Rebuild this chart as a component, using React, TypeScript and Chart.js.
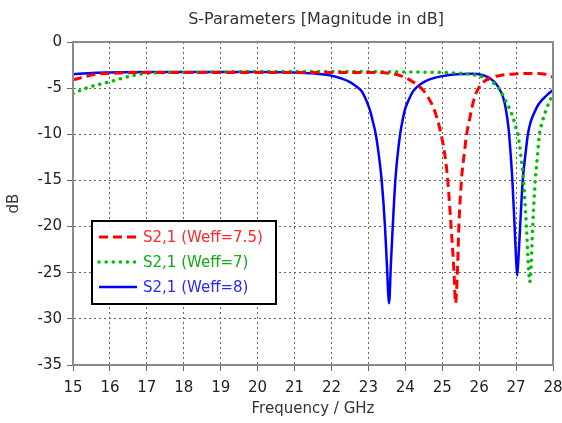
import React, { useEffect, useRef } from "react";
import { Chart, registerables } from "chart.js";

Chart.register(...registerables);

const titleText = "S-Parameters [Magnitude in dB]";
const xTitle = "Frequency / GHz";
const yTitle = "dB";

const seriesNames = ["S2,1 (Weff=7.5)", "S2,1 (Weff=7)", "S2,1 (Weff=8)"];
const seriesColors = ["rgb(255,0,0)", "rgb(0,190,0)", "rgb(0,0,255)"];
const textColors = ["rgb(255,40,40)", "rgb(20,170,20)", "rgb(40,40,255)"];

const xTicks = [15, 16, 17, 18, 19, 20, 21, 22, 23, 24, 25, 26, 27, 28];
const yTicks = [0, -5, -10, -15, -20, -25, -30, -35];

// Weff = 7.5 (red, dashed)
const freqRed = [15, 15.3, 15.6, 16, 17, 18, 19, 20, 21, 22, 23, 23.5, 23.74, 23.9, 24.05, 24.2, 24.38, 24.5, 24.62, 24.75, 24.87, 24.97, 25.08, 25.15, 25.24, 25.32, 25.36, 25.41, 25.45, 25.52, 25.6, 25.66, 25.73, 25.8, 25.9, 26.0, 26.1, 26.3, 26.6, 27.0, 27.5, 27.8, 28];
const dbRed = [-4.1, -3.8, -3.5, -3.4, -3.3, -3.3, -3.3, -3.3, -3.3, -3.3, -3.3, -3.35, -3.5, -3.7, -3.95, -4.3, -4.8, -5.3, -6.0, -7.0, -8.4, -10, -12.5, -15, -20, -25, -28.3, -25, -20, -15, -12, -10, -8.6, -7.2, -5.7, -4.9, -4.4, -3.9, -3.6, -3.45, -3.4, -3.5, -3.8];

// Weff = 7 (green, dotted)
const freqGreen = [15, 15.35, 15.7, 16, 16.45, 17, 18, 19, 20, 21, 22, 23, 24, 25, 25.5, 25.9, 26.1, 26.3, 26.45, 26.58, 26.7, 26.82, 26.92, 27.0, 27.05, 27.13, 27.2, 27.28, 27.33, 27.37, 27.41, 27.45, 27.52, 27.58, 27.63, 27.7, 27.8, 27.9, 28];
const dbGreen = [-5.6, -5.0, -4.6, -4.3, -3.8, -3.4, -3.3, -3.25, -3.2, -3.2, -3.2, -3.2, -3.25, -3.3, -3.4, -3.6, -3.8, -4.2, -4.65, -5.3, -6.2, -7.2, -8.2, -9.3, -10, -12.3, -15, -20, -24, -26, -24, -20, -15, -12.3, -10, -8.8, -7.5, -6.5, -5.6];

// Weff = 8 (blue, solid)
const freqBlue = [15, 15.5, 16, 17, 18, 19, 20, 21, 21.5, 22, 22.3, 22.5, 22.7, 22.83, 22.95, 23.05, 23.12, 23.2, 23.3, 23.36, 23.45, 23.5, 23.56, 23.61, 23.66, 23.73, 23.79, 23.86, 23.93, 24.0, 24.1, 24.2, 24.3, 24.4, 24.55, 24.7, 25.0, 25.4, 25.8, 26.1, 26.3, 26.45, 26.55, 26.65, 26.72, 26.8, 26.85, 26.9, 26.96, 27.0, 27.03, 27.07, 27.11, 27.18, 27.25, 27.32, 27.4, 27.5, 27.6, 27.7, 27.85, 28];
const dbBlue = [-3.5, -3.35, -3.3, -3.25, -3.25, -3.25, -3.25, -3.3, -3.4, -3.65, -4.0, -4.35, -4.9, -5.4, -6.4, -7.5, -8.6, -10, -12.8, -15, -20, -24, -28.3, -24, -20, -15, -12.3, -10, -8.4, -7.2, -6.2, -5.4, -4.95, -4.6, -4.25, -4.0, -3.7, -3.5, -3.45, -3.6, -3.95, -4.5, -5.1, -6.0, -7.2, -9.5, -12, -15, -20, -23.5, -25.3, -23, -20, -15, -12.3, -10, -8.6, -7.6, -6.8, -6.3, -5.7, -5.2];

const FONT = "'DejaVu Sans', Verdana, sans-serif";

const toPoints = (xs: number[], ys: number[]) => xs.map((x, i) => ({ x, y: ys[i] }));

const decorPlugin = {
  id: "decor",
  afterDraw(chart: any) {
    const { ctx, chartArea } = chart;
    const { left, right, top, bottom } = chartArea;
    ctx.save();
    ctx.strokeStyle = "#8a8a8a";
    ctx.lineWidth = 2;
    ctx.setLineDash([]);
    ctx.strokeRect(left, top, right - left, bottom - top);
    ctx.fillStyle = "#333";
    ctx.font = `16px ${FONT}`;
    ctx.textAlign = "center";
    ctx.textBaseline = "middle";
    ctx.fillText(titleText, (left + right) / 2 + 3, 20);
    const bx = 92, by = 221, bw = 184, bh = 83;
    ctx.fillStyle = "#fff";
    ctx.fillRect(bx, by, bw, bh);
    ctx.strokeStyle = "#000";
    ctx.lineWidth = 2;
    ctx.strokeRect(bx, by, bw, bh);
    const rows = [237, 262, 287];
    chart.data.datasets.forEach((ds: any, i: number) => {
      const y = rows[i];
      ctx.strokeStyle = ds.borderColor;
      ctx.lineWidth = ds.borderWidth;
      ctx.lineCap = ds.borderCapStyle || "butt";
      ctx.setLineDash(ds.borderDash || []);
      ctx.beginPath();
      ctx.moveTo(99, y);
      ctx.lineTo(137, y);
      ctx.stroke();
      ctx.setLineDash([]);
      ctx.fillStyle = textColors[i];
      ctx.font = `15px ${FONT}`;
      ctx.textAlign = "left";
      ctx.textBaseline = "middle";
      ctx.fillText(ds.label, 143, y + 1);
    });
    ctx.restore();
  },
};

export default function App() {
  const ref = useRef<HTMLCanvasElement | null>(null);
  useEffect(() => {
    if (!ref.current) return;
    const chart = new Chart(ref.current, {
      type: "line",
      data: {
        datasets: [
          {
            label: seriesNames[0],
            data: toPoints(freqRed, dbRed),
            borderColor: seriesColors[0],
            borderWidth: 3,
            borderDash: [9, 5],
            borderCapStyle: "butt",
            pointRadius: 0,
            cubicInterpolationMode: "monotone",
            fill: false,
          },
          {
            label: seriesNames[1],
            data: toPoints(freqGreen, dbGreen),
            borderColor: seriesColors[1],
            borderWidth: 3.5,
            borderDash: [0.1, 7],
            borderCapStyle: "round",
            pointRadius: 0,
            cubicInterpolationMode: "monotone",
            fill: false,
          },
          {
            label: seriesNames[2],
            data: toPoints(freqBlue, dbBlue),
            borderColor: seriesColors[2],
            borderWidth: 2.5,
            pointRadius: 0,
            cubicInterpolationMode: "monotone",
            fill: false,
          },
        ],
      },
      options: {
        animation: false,
        responsive: false,
        maintainAspectRatio: false,
        layout: { padding: { top: 42, right: 9, bottom: 0, left: 0 } },
        plugins: {
          legend: { display: false },
          title: { display: false },
          tooltip: { enabled: false },
        },
        scales: {
          x: {
            type: "linear",
            min: 15,
            max: 28,
            afterBuildTicks: (scale: any) => {
              scale.ticks = xTicks.map((v) => ({ value: v }));
            },
            afterFit: (scale: any) => {
              scale.height = 58;
              scale.paddingLeft = 0;
              scale.paddingRight = 0;
            },
            ticks: {
              color: "#222",
              font: { family: FONT, size: 15 },
              padding: 8,
              maxRotation: 0,
              autoSkip: false,
            },
            grid: {
              color: "#666",
              tickColor: "#666",
              tickLength: 6,
              tickBorderDash: [],
              lineWidth: 1,
            },
            border: { display: true, color: "#8a8a8a", width: 2, dash: [2, 3] },
            title: {
              display: true,
              text: xTitle,
              color: "#333",
              font: { family: FONT, size: 15 },
              padding: { top: 0, bottom: 5 },
            },
          },
          y: {
            type: "linear",
            min: -35,
            max: 0,
            afterBuildTicks: (scale: any) => {
              scale.ticks = yTicks.map((v) => ({ value: v }));
            },
            afterFit: (scale: any) => {
              scale.width = 73;
              scale.paddingTop = 0;
              scale.paddingBottom = 0;
            },
            ticks: {
              color: "#222",
              font: { family: FONT, size: 15 },
              padding: 5,
              autoSkip: false,
            },
            grid: {
              color: "#666",
              tickColor: "#666",
              tickLength: 6,
              tickBorderDash: [],
              lineWidth: 1,
            },
            border: { display: true, color: "#8a8a8a", width: 2, dash: [2, 3] },
            title: {
              display: true,
              text: yTitle,
              color: "#333",
              font: { family: FONT, size: 15 },
              padding: { top: 5, bottom: 0 },
            },
          },
        },
      },
      plugins: [decorPlugin],
    });
    return () => chart.destroy();
  }, []);
  return (
    <div style={{ position: "fixed", left: 0, top: 0, width: 562, height: 423, background: "#fff" }}>
      <canvas ref={ref} width={562} height={423} style={{ width: 562, height: 423 }} />
    </div>
  );
}
